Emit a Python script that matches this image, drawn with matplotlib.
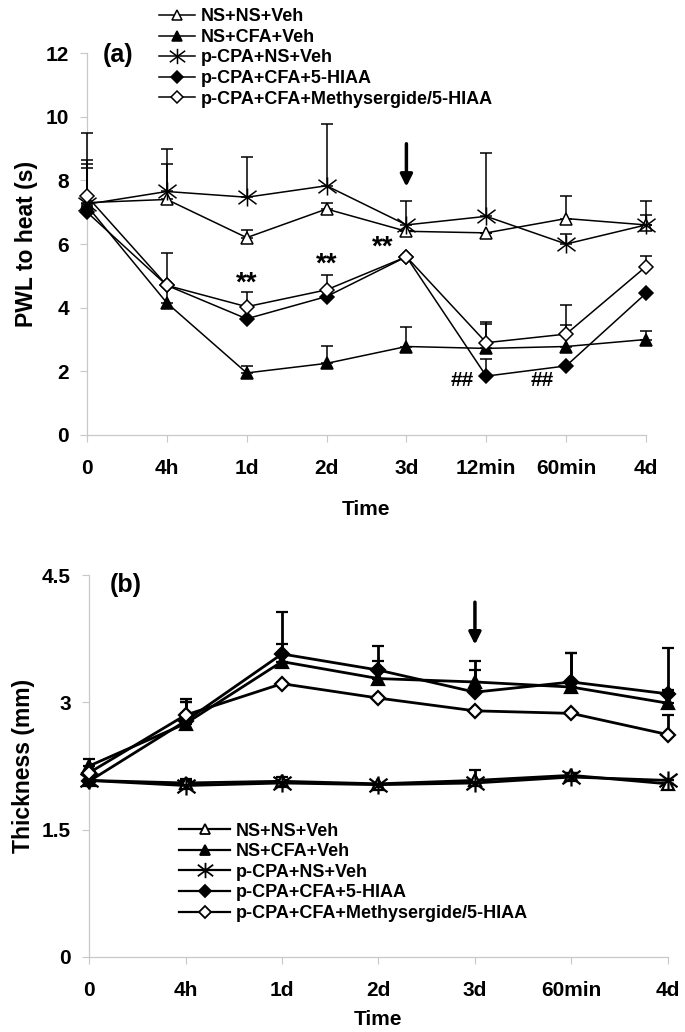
import matplotlib
matplotlib.use("Agg")
import matplotlib.pyplot as plt
from matplotlib.lines import Line2D
from matplotlib.path import Path
import numpy as np

plt.rcParams["font.family"] = ["Liberation Sans", "DejaVu Sans"]
plt.rcParams["font.weight"] = "bold"

# --- panel (a): PWL to heat (s) ---
TIME_A = ["0", "4h", "1d", "2d", "3d", "12min", "60min", "4d"]
NS_NS_VEH_A = [7.3, 7.4, 6.2, 7.1, 6.4, 6.35, 6.8, 6.6]
NS_NS_VEH_A_ERR = [1.35, 1.1, 0.25, 0.2, 0.0, 0.0, 0.7, 0.3]
NS_CFA_VEH_A = [7.2, 4.15, 1.95, 2.25, 2.78, 2.72, 2.78, 3.0]
NS_CFA_VEH_A_ERR = [1.3, 1.58, 0.23, 0.55, 0.62, 0.84, 0.67, 0.28]
PCPA_NS_VEH_A = [7.25, 7.65, 7.47, 7.83, 6.6, 6.87, 6.0, 6.6]
PCPA_NS_VEH_A_ERR = [2.25, 1.35, 1.25, 1.95, 0.75, 2.0, 0.3, 0.75]
PCPA_CFA_HIAA_A = [7.0, 4.7, 3.65, 4.35, 5.6, 1.85, 2.17, 4.45]
PCPA_CFA_HIAA_A_ERR = [0.0, 0.0, 0.0, 0.0, 0.0, 0.53, 0.0, 0.0]
PCPA_CFA_METH_A = [7.5, 4.7, 4.03, 4.56, 5.6, 2.9, 3.17, 5.29]
PCPA_CFA_METH_A_ERR = [0.9, 0.0, 0.45, 0.48, 0.0, 0.6, 0.9, 0.33]

# --- panel (b): Thickness (mm) ---
TIME_B = ["0", "4h", "1d", "2d", "3d", "60min", "4d"]
NS_NS_VEH_B = [2.08, 2.05, 2.07, 2.04, 2.08, 2.14, 2.04]
NS_NS_VEH_B_ERR = [0.0, 0.05, 0.05, 0.0, 0.0, 0.03, 0.0]
NS_CFA_VEH_B = [2.25, 2.75, 3.48, 3.28, 3.24, 3.18, 2.99]
NS_CFA_VEH_B_ERR = [0.08, 0.25, 0.21, 0.21, 0.25, 0.4, 0.16]
PCPA_NS_VEH_B = [2.08, 2.02, 2.05, 2.03, 2.05, 2.12, 2.08]
PCPA_NS_VEH_B_ERR = [0.0, 0.05, 0.04, 0.0, 0.15, 0.05, 0.0]
PCPA_CFA_HIAA_B = [2.07, 2.78, 3.57, 3.38, 3.12, 3.24, 3.1]
PCPA_CFA_HIAA_B_ERR = [0.0, 0.26, 0.5, 0.28, 0.26, 0.34, 0.54]
PCPA_CFA_METH_B = [2.17, 2.85, 3.22, 3.05, 2.9, 2.87, 2.62]
PCPA_CFA_METH_B_ERR = [0.0, 0.15, 0.0, 0.0, 0.0, 0.0, 0.23]

LABELS = ["NS+NS+Veh", "NS+CFA+Veh", "p-CPA+NS+Veh",
          "p-CPA+CFA+5-HIAA", "p-CPA+CFA+Methysergide/5-HIAA"]

AXIS_GRAY = "#c8c8c8"
# Excel-style "star": an X with a vertical bar through it
STAR = Path([(-1, -0.75), (1, 0.75), (-1, 0.75), (1, -0.75), (0, -1), (0, 1)],
            [Path.MOVETO, Path.LINETO, Path.MOVETO, Path.LINETO,
             Path.MOVETO, Path.LINETO])
# marker, face colour, size
STYLES = [("^", "white", 9), ("^", "black", 9), (STAR, "none", 13),
          ("D", "black", 7), ("D", "white", 7)]


def style_axes(ax):
    for s in ("top", "right"):
        ax.spines[s].set_visible(False)
    for s in ("left", "bottom"):
        ax.spines[s].set_color(AXIS_GRAY)
        ax.spines[s].set_linewidth(0.9)
    ax.tick_params(direction="out", length=5, color=AXIS_GRAY, labelsize=15)
    ax.tick_params(axis="x", pad=12)
    ax.tick_params(axis="y", pad=8)


def draw_series(ax, series, errs, lw, mew):
    x = np.arange(len(series[0]))
    for (marker, face, ms), y, e in zip(STYLES, series, errs):
        ax.errorbar(x, y, yerr=[np.zeros(len(e)), e], color="black", lw=lw,
                    marker=marker, mfc=face, mec="black", ms=ms, mew=mew,
                    ecolor="black", elinewidth=lw, capsize=4, capthick=lw,
                    zorder=3, clip_on=False)


def legend_handles(lw, mew):
    return [Line2D([0], [0], color="black", lw=lw, marker=m, mfc=f,
                   mec="black", ms=ms * 0.85, mew=mew, label=lab)
            for (m, f, ms), lab in zip(STYLES, LABELS)]


fig = plt.figure(figsize=(6.85, 10.32), dpi=100)

# ---------- (a) ----------
ax1 = fig.add_axes([0.127, 0.5785, 0.816, 0.3701])
draw_series(ax1,
            [NS_NS_VEH_A, NS_CFA_VEH_A, PCPA_NS_VEH_A, PCPA_CFA_HIAA_A, PCPA_CFA_METH_A],
            [NS_NS_VEH_A_ERR, NS_CFA_VEH_A_ERR, PCPA_NS_VEH_A_ERR,
             PCPA_CFA_HIAA_A_ERR, PCPA_CFA_METH_A_ERR], lw=1.1, mew=1.1)
ax1.set_xlim(0, len(TIME_A) - 1)
ax1.set_ylim(0, 12)
ax1.set_yticks(range(0, 13, 2))
ax1.set_xticks(range(len(TIME_A)))
ax1.set_xticklabels(TIME_A)
style_axes(ax1)
ax1.set_ylabel("PWL to heat (s)", fontsize=16.5, fontweight="bold")
ax1.yaxis.set_label_coords(-0.088, 0.5)
ax1.set_xlabel("Time", fontsize=15, fontweight="bold")
ax1.xaxis.set_label_coords(0.5, -0.17)

for xi, yi, s, fs in [(2, 4.75, "**", 20), (3, 5.35, "**", 20), (3.7, 5.9, "**", 20),
                      (4.7, 1.7, "##", 15), (5.7, 1.7, "##", 15)]:
    ax1.text(xi, yi, s, ha="center", va="center", fontsize=fs, fontweight="bold")
ax1.annotate("", xy=(4, 7.8), xytext=(4, 9.15),
             arrowprops=dict(arrowstyle="-|>", color="black", lw=2.5,
                             mutation_scale=18, shrinkA=0, shrinkB=0))
fig.text(0.172, 0.947, "(a)", fontsize=18, fontweight="bold", ha="center", va="center")
fig.legend(handles=legend_handles(1.1, 1.1), loc="upper left",
           bbox_to_anchor=(0.232, 0.992), frameon=False, fontsize=13,
           handlelength=2.0, handletextpad=0.3, labelspacing=0.2,
           borderpad=0, borderaxespad=0)

# ---------- (b) ----------
ax2 = fig.add_axes([0.130, 0.0727, 0.845, 0.3701])
draw_series(ax2,
            [NS_NS_VEH_B, NS_CFA_VEH_B, PCPA_NS_VEH_B, PCPA_CFA_HIAA_B, PCPA_CFA_METH_B],
            [NS_NS_VEH_B_ERR, NS_CFA_VEH_B_ERR, PCPA_NS_VEH_B_ERR,
             PCPA_CFA_HIAA_B_ERR, PCPA_CFA_METH_B_ERR], lw=2.0, mew=1.6)
ax2.set_xlim(0, len(TIME_B) - 1)
ax2.set_ylim(0, 4.5)
ax2.set_yticks([0, 1.5, 3, 4.5])
ax2.set_yticklabels(["0", "1.5", "3", "4.5"])
ax2.set_xticks(range(len(TIME_B)))
ax2.set_xticklabels(TIME_B)
style_axes(ax2)
ax2.set_ylabel("Thickness (mm)", fontsize=16.5, fontweight="bold")
ax2.yaxis.set_label_coords(-0.093, 0.5)
ax2.set_xlabel("Time", fontsize=15, fontweight="bold")
ax2.xaxis.set_label_coords(0.5, -0.14)

ax2.annotate("", xy=(4, 3.68), xytext=(4, 4.18),
             arrowprops=dict(arrowstyle="-|>", color="black", lw=2.5,
                             mutation_scale=18, shrinkA=0, shrinkB=0))
fig.text(0.183, 0.433, "(b)", fontsize=18, fontweight="bold", ha="center", va="center")
fig.legend(handles=legend_handles(1.6, 1.3), loc="upper left",
           bbox_to_anchor=(0.262, 0.203), frameon=False, fontsize=13,
           handlelength=2.8, handletextpad=0.3, labelspacing=0.2,
           borderpad=0, borderaxespad=0)

fig.savefig("out.png", dpi=100, facecolor="white")
